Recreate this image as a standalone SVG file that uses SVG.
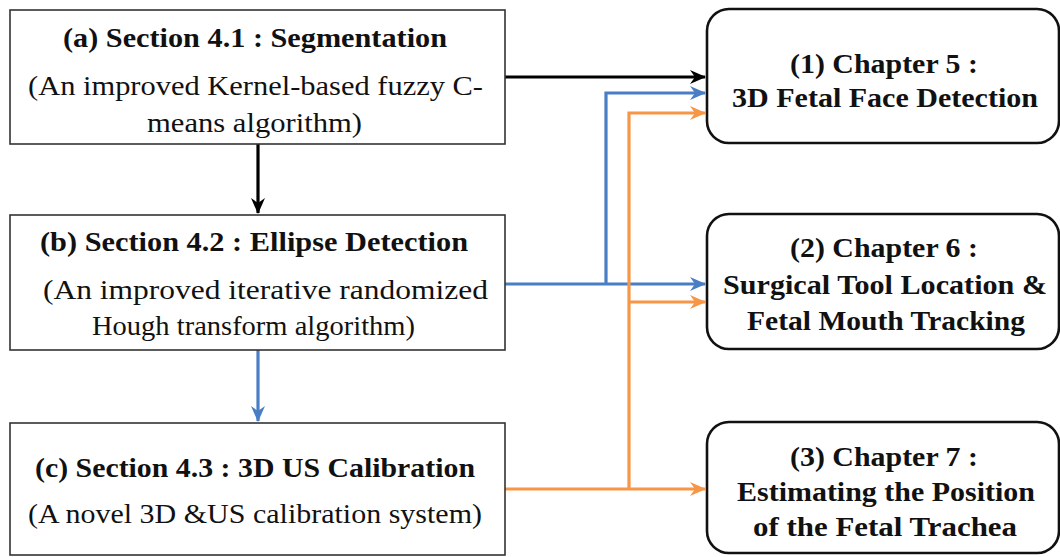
<svg xmlns="http://www.w3.org/2000/svg" width="1060" height="557" viewBox="0 0 1060 557">
  <style>
    .sec { fill: #ffffff; stroke: #333333; stroke-width: 1.6; }
    .chap { fill: #ffffff; stroke: #111111; stroke-width: 2.6; }
    text { font-family: "Liberation Serif", "Times New Roman", serif; fill: #111111; font-size: 27px; }
    .hd, .ch { font-weight: bold; }
    .k { fill: none; stroke: #000000; stroke-width: 3.2; }
    .b { fill: none; stroke: #4a7ec4; stroke-width: 3.2; }
    .o { fill: none; stroke: #f79646; stroke-width: 3.2; }
  </style>
  <defs>
    <marker id="ak" viewBox="0 0 16 14" refX="15" refY="7" markerWidth="16" markerHeight="14" markerUnits="userSpaceOnUse" orient="auto">
      <path d="M0,0 L16,7 L0,14 L5,7 z" fill="#000000"/>
    </marker>
    <marker id="ab" viewBox="0 0 16 14" refX="15" refY="7" markerWidth="16" markerHeight="14" markerUnits="userSpaceOnUse" orient="auto">
      <path d="M0,0 L16,7 L0,14 L5,7 z" fill="#4a7ec4"/>
    </marker>
    <marker id="ao" viewBox="0 0 16 14" refX="15" refY="7" markerWidth="16" markerHeight="14" markerUnits="userSpaceOnUse" orient="auto">
      <path d="M0,0 L16,7 L0,14 L5,7 z" fill="#f79646"/>
    </marker>
  </defs>

  <g id="connectors">
    <path class="k" d="M505,77 H705" marker-end="url(#ak)"/>
    <path class="k" d="M258,144 V213" marker-end="url(#ak)"/>
    <path class="b" d="M258,350 V421" marker-end="url(#ab)"/>
    <path class="b" d="M505,284 H705" marker-end="url(#ab)"/>
    <path class="b" d="M606,284 V93 H705" marker-end="url(#ab)"/>
    <path class="o" d="M505,489 H705" marker-end="url(#ao)"/>
    <path class="o" d="M629,489 V113 H705" marker-end="url(#ao)"/>
    <path class="o" d="M629,302 H705" marker-end="url(#ao)"/>
  </g>

  <g id="section-a">
    <rect class="sec" x="10" y="10" width="495" height="134"/>
    <text class="hd" x="63" y="47" textLength="384" lengthAdjust="spacingAndGlyphs">(a) Section 4.1 : Segmentation</text>
    <text class="bd" x="28" y="95" textLength="455" lengthAdjust="spacingAndGlyphs">(An improved Kernel-based  fuzzy  C-</text>
    <text class="bd" x="147" y="132" textLength="215" lengthAdjust="spacingAndGlyphs">means algorithm)</text>
  </g>

  <g id="section-b">
    <rect class="sec" x="10" y="215" width="495" height="135"/>
    <text class="hd" x="40" y="251" textLength="428" lengthAdjust="spacingAndGlyphs">(b) Section 4.2 : Ellipse  Detection</text>
    <text class="bd" x="43" y="299" textLength="445" lengthAdjust="spacingAndGlyphs">(An improved iterative randomized</text>
    <text class="bd" x="92" y="335" textLength="323" lengthAdjust="spacingAndGlyphs">Hough transform algorithm)</text>
  </g>

  <g id="section-c">
    <rect class="sec" x="10" y="423" width="495" height="132"/>
    <text class="hd" x="35" y="477" textLength="440" lengthAdjust="spacingAndGlyphs">(c) Section 4.3 : 3D US Calibration</text>
    <text class="bd" x="28" y="523" textLength="454" lengthAdjust="spacingAndGlyphs">(A novel 3D &amp;US calibration system)</text>
  </g>

  <g id="chapter-5">
    <rect class="chap" x="707" y="9" width="352" height="134" rx="22"/>
    <text class="ch" x="790" y="73" textLength="188" lengthAdjust="spacingAndGlyphs">(1) Chapter  5 :</text>
    <text class="ch" x="732" y="107" textLength="306" lengthAdjust="spacingAndGlyphs">3D Fetal Face Detection</text>
  </g>

  <g id="chapter-6">
    <rect class="chap" x="707" y="214" width="352" height="135" rx="22"/>
    <text class="ch" x="790" y="257" textLength="188" lengthAdjust="spacingAndGlyphs">(2) Chapter  6 :</text>
    <text class="ch" x="723" y="294" textLength="324" lengthAdjust="spacingAndGlyphs">Surgical  Tool Location &amp;</text>
    <text class="ch" x="747" y="330" textLength="278" lengthAdjust="spacingAndGlyphs">Fetal Mouth  Tracking</text>
  </g>

  <g id="chapter-7">
    <rect class="chap" x="707" y="422" width="352" height="131" rx="22"/>
    <text class="ch" x="790" y="466" textLength="188" lengthAdjust="spacingAndGlyphs">(3) Chapter  7 :</text>
    <text class="ch" x="737" y="501" textLength="298" lengthAdjust="spacingAndGlyphs">Estimating  the Position</text>
    <text class="ch" x="753" y="536" textLength="264" lengthAdjust="spacingAndGlyphs">of  the Fetal Trachea</text>
  </g>
</svg>
